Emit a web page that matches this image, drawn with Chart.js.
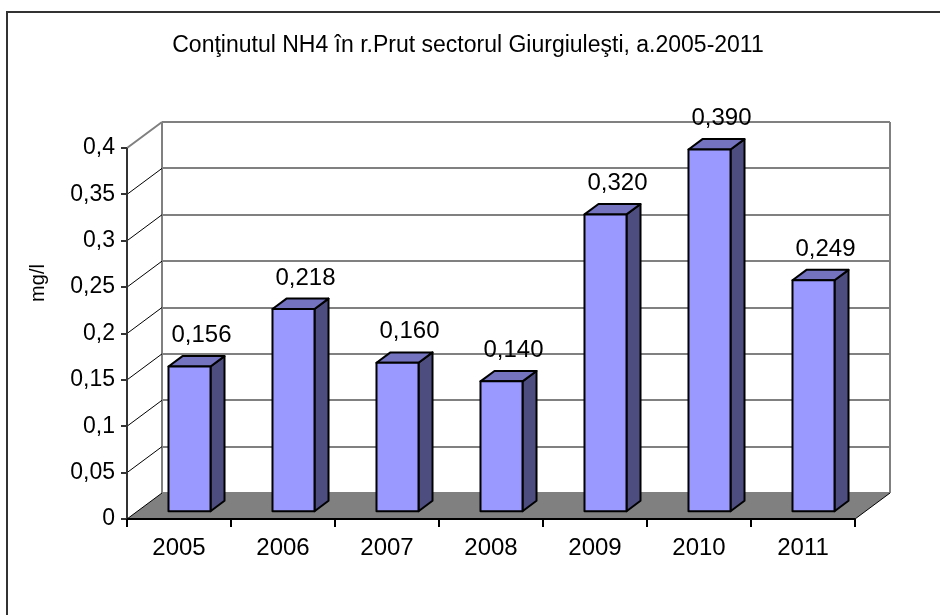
<!DOCTYPE html>
<html>
<head>
<meta charset="utf-8">
<script src="https://cdn.jsdelivr.net/npm/chart.js@4/dist/chart.umd.min.js"></script>
<style>
html,body{margin:0;padding:0;background:#fff;}
canvas{display:block;}
</style>
</head>
<body>
<canvas id="c" width="940" height="615"></canvas>
<script>
const categories = ['2005','2006','2007','2008','2009','2010','2011'];
const nh4Values = [0.156, 0.218, 0.160, 0.140, 0.320, 0.390, 0.249];
const yTickLabels = ['0','0,05','0,1','0,15','0,2','0,25','0,3','0,35','0,4'];
const chartTitle = 'Conţinutul NH4 în r.Prut sectorul Giurgiuleşti, a.2005-2011';
const yAxisTitle = 'mg/l';

const FONT = '"Liberation Sans", Arial, sans-serif';
const DX = 35, DY = 26;          // wall depth
const BZ = 0.3, BD = 0.4;        // bar front plane / bar depth (fractions of depth)

const threeD = {
  id: 'threeD',
  beforeDraw(chart) {
    const ctx = chart.ctx;
    ctx.save();
    ctx.fillStyle = '#fff';
    ctx.fillRect(0, 0, chart.width, chart.height);
    ctx.strokeStyle = '#333';
    ctx.lineWidth = 2;
    ctx.beginPath();
    ctx.moveTo(7, 700); ctx.lineTo(7, 12); ctx.lineTo(1000, 12);
    ctx.stroke();
    ctx.fillStyle = '#000';
    ctx.font = '23px ' + FONT;
    ctx.textAlign = 'center';
    ctx.textBaseline = 'middle';
    ctx.fillText(chartTitle, 468, 46);
    ctx.font = '20px ' + FONT;
    ctx.translate(38, 283);
    ctx.rotate(-Math.PI / 2);
    ctx.fillText(yAxisTitle, 0, 0);
    ctx.restore();
  },
  beforeDatasetsDraw(chart) {
    const {ctx, chartArea: {left, right, top, bottom}, scales: {x, y}} = chart;
    ctx.save();
    ctx.lineCap = 'butt';
    ctx.strokeStyle = '#808080';
    ctx.lineWidth = 2;
    y.ticks.forEach(t => {
      const py = Math.round(y.getPixelForValue(t.value) - DY);
      ctx.beginPath();
      ctx.moveTo(left + DX, py); ctx.lineTo(right + DX, py);
      ctx.stroke();
    });
    ctx.beginPath();
    ctx.moveTo(left + DX, bottom - DY); ctx.lineTo(left + DX, top - DY);
    ctx.moveTo(right + DX, bottom - DY); ctx.lineTo(right + DX, top - DY);
    ctx.moveTo(left, top); ctx.lineTo(left + DX, top - DY);
    ctx.stroke();
    ctx.strokeStyle = '#000';
    ctx.lineWidth = 1;
    y.ticks.forEach((t, i) => {
      if (i === y.ticks.length - 1 || i === 0) return;
      const py = y.getPixelForValue(t.value);
      ctx.beginPath();
      ctx.moveTo(left, py); ctx.lineTo(left + DX, py - DY);
      ctx.stroke();
    });
    ctx.fillStyle = '#808080';
    ctx.beginPath();
    ctx.moveTo(left, bottom); ctx.lineTo(right, bottom);
    ctx.lineTo(right + DX, bottom - DY); ctx.lineTo(left + DX, bottom - DY);
    ctx.closePath();
    ctx.fill();
    ctx.strokeStyle = '#000';
    ctx.lineWidth = 1;
    ctx.beginPath();
    ctx.moveTo(left, bottom); ctx.lineTo(left + DX, bottom - DY);
    ctx.moveTo(right, bottom); ctx.lineTo(right + DX, bottom - DY);
    ctx.stroke();
    ctx.strokeStyle = '#333';
    ctx.lineWidth = 2;
    ctx.beginPath();
    ctx.moveTo(left, top); ctx.lineTo(left, bottom);
    y.ticks.forEach(t => {
      const py = Math.round(y.getPixelForValue(t.value));
      ctx.moveTo(left - 6, py); ctx.lineTo(left, py);
    });
    ctx.stroke();
    ctx.strokeStyle = '#000';
    ctx.beginPath();
    ctx.moveTo(left, bottom); ctx.lineTo(right, bottom);
    const n = categories.length;
    for (let i = 0; i <= n; i++) {
      const px = Math.round(left + (right - left) * i / n);
      ctx.moveTo(px, bottom); ctx.lineTo(px, bottom + 8);
    }
    ctx.stroke();
    ctx.restore();
  },
  afterDatasetsDraw(chart) {
    const {ctx} = chart;
    const meta = chart.getDatasetMeta(0);
    const fx = DX * BZ, fy = DY * BZ, bdx = DX * BD, bdy = DY * BD;
    ctx.save();
    ctx.lineWidth = 2;
    ctx.lineJoin = 'round';
    ctx.strokeStyle = '#000';
    meta.data.forEach((el, i) => {
      const l = el.x - el.width / 2 + fx, r = el.x + el.width / 2 + fx;
      const t = el.y - fy, b = el.base - fy;
      ctx.fillStyle = '#4D4D80';
      ctx.beginPath();
      ctx.moveTo(r, t); ctx.lineTo(r + bdx, t - bdy); ctx.lineTo(r + bdx, b - bdy); ctx.lineTo(r, b);
      ctx.closePath(); ctx.fill(); ctx.stroke();
      ctx.fillStyle = '#7373BF';
      ctx.beginPath();
      ctx.moveTo(l, t); ctx.lineTo(r, t); ctx.lineTo(r + bdx, t - bdy); ctx.lineTo(l + bdx, t - bdy);
      ctx.closePath(); ctx.fill(); ctx.stroke();
      ctx.fillStyle = '#9999FF';
      ctx.beginPath();
      ctx.rect(l, t, r - l, b - t);
      ctx.fill(); ctx.stroke();
      ctx.fillStyle = '#000';
      ctx.font = '24px ' + FONT;
      ctx.textAlign = 'center';
      ctx.textBaseline = 'middle';
      const v = nh4Values[i];
      ctx.fillText(v.toFixed(3).replace('.', ','), el.x + fx + 12, t - 31);
    });
    ctx.restore();
  }
};

new Chart(document.getElementById('c'), {
  type: 'bar',
  data: {
    labels: categories,
    datasets: [{
      data: nh4Values,
      backgroundColor: 'rgba(0,0,0,0)',
      borderWidth: 0,
      categoryPercentage: 1,
      barPercentage: 0.404
    }]
  },
  options: {
    responsive: false,
    animation: false,
    devicePixelRatio: 1,
    layout: {padding: {left: 0, right: 85, top: 148, bottom: 0}},
    plugins: {
      legend: {display: false},
      tooltip: {enabled: false},
      title: {display: false}
    },
    scales: {
      x: {
        grid: {display: false, drawTicks: false},
        border: {display: false},
        ticks: {color: '#000', font: {family: FONT, size: 24}, padding: 15, maxRotation: 0},
        afterFit: s => { s.height = 96; }
      },
      y: {
        min: 0, max: 0.4,
        grid: {display: false, drawTicks: false},
        border: {display: false},
        ticks: {
          stepSize: 0.05, color: '#000', padding: 12,
          font: {family: FONT, size: 23},
          callback: (v, i) => yTickLabels[i]
        },
        afterFit: s => { s.width = 127; }
      }
    }
  },
  plugins: [threeD]
});
</script>
</body>
</html>
